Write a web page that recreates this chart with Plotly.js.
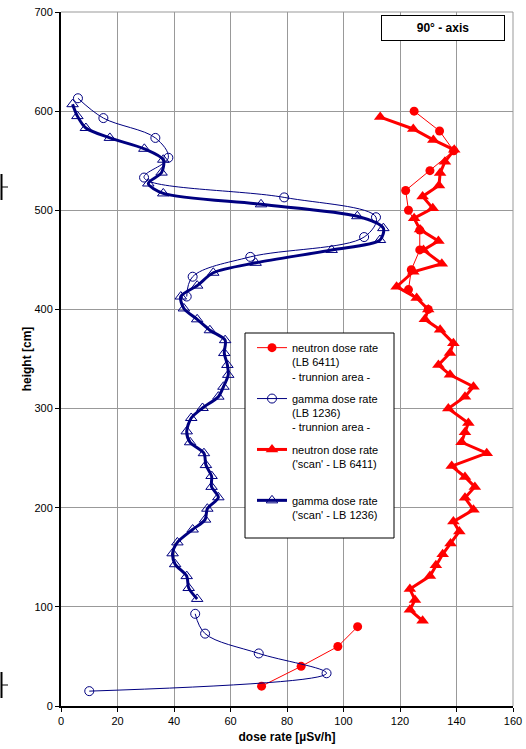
<!DOCTYPE html>
<html>
<head>
<meta charset="utf-8">
<script src="https://cdn.plot.ly/plotly-3.0.1.min.js"></script>
<style>
html,body{margin:0;padding:0;background:#fff;}
#chart{width:526px;height:749px;}
</style>
</head>
<body>
<div id="chart"></div>
<script>
// neutron dose rate (LB 6411) - trunnion area -  (null = gap between the two areas)
const nTrunHeight = [20, 40, 60, 80, null, 400, 420, 440, 460, 480, 500, 520, 540, 560, 580, 600];
const nTrunDose   = [71, 85, 98, 105, null, 130, 123, 124, 127, 127, 123, 122, 130.6, 139, 134, 125];

// gamma dose rate (LB 1236) - trunnion area -
const gTrunHeight = [15, 33, 53, 73, 93, null, 413, 433, 453, 473, 493, 513, 533, 553, 573, 593, 613];
const gTrunDose   = [10, 94, 70, 51, 47.5, null, 44.5, 46.6, 67, 107.3, 111.5, 79, 29.4, 38, 33.4, 15, 6];

// neutron dose rate ('scan' - LB 6411)
const nScanHeight = [86, 97, 107, 118, 131, 142, 153, 164, 176, 186, 198, 210, 221, 231, 242, 255, 266, 276, 285.5,
  300, 312, 322, 334, 344, 356, 366, 379.5, 390, 400, 411.5, 423, 438, 446, 460, 469, 480.5, 492, 502, 514, 525,
  537.5, 549, 561, 571, 582, 594];
const nScanDose   = [128, 123.5, 125.3, 123.5, 130.6, 132.7, 135.1, 137.9, 141, 138.9, 146, 143, 146.5, 143, 138.3, 150.7, 141.8, 143, 144.2,
  137.1, 143, 146, 137.7, 133.6, 137.7, 138.9, 134.2, 128.8, 130, 125.9, 118.8, 124.7, 134.8, 128.3, 133.6, 127.1, 125, 131.6, 128, 133.8,
  134.2, 135.9, 139.2, 131.8, 124.7, 113];

// gamma dose rate ('scan' - LB 1236)
const gScanHeight = [108, 119, 131, 143, 154, 165, 178, 188, 199, 210.5, 221, 232, 243, 255, 266, 277, 290.5, 300.6, 312, 322,
  334, 344, 356, 369, 379, 390, 401, 413, 424, 437, 447, 460, 470, 482, 494, 506, 517, 527, 538, 551, 562, 573, 583, 595, 607];
const gScanDose   = [48.2, 45.2, 44.5, 40.4, 39.5, 41.2, 46.6, 51, 51.8, 55.7, 53.3, 53.3, 51.3, 50.6, 45.7, 44.5, 46.1, 50.1, 55.7, 57.5,
  59.2, 58.9, 57.8, 58.1, 52.7, 48.2, 43.5, 42.4, 48.2, 53.9, 68.9, 95.8, 112.9, 114.1, 104.9, 70.8, 36.2, 30.9, 35.6, 36.2, 29.5, 17.3, 8.8, 5.8, 4.1];

const seriesNames = [
  'neutron dose rate<br>(LB 6411)<br>- trunnion area -',
  'gamma dose rate<br>(LB 1236)<br>- trunnion area -',
  "neutron dose rate<br>('scan' - LB 6411)<br>&nbsp;",
  "gamma dose rate<br>('scan' - LB 1236)<br>&nbsp;"
];

const xTicks = [0, 20, 40, 60, 80, 100, 120, 140, 160];
const yTicks = [0, 100, 200, 300, 400, 500, 600, 700];

const RED = '#FF0000', NAVY = '#000080';
const FONT = '"Liberation Sans", Arial, Helvetica, sans-serif';

const traces = [
  {
    x: nTrunDose, y: nTrunHeight, type: 'scatter', mode: 'lines+markers',
    name: seriesNames[0], legendgroup: 'a',
    line: {color: RED, width: 1}, connectgaps: false,
    marker: {symbol: 'circle', size: 9, color: RED}
  },
  {
    x: gTrunDose, y: gTrunHeight, type: 'scatter', mode: 'lines+markers',
    name: seriesNames[1], legendgroup: 'b',
    line: {color: NAVY, width: 1, shape: 'spline', smoothing: 1}, connectgaps: false,
    marker: {symbol: 'circle', size: 9, color: 'rgba(255,255,255,0)', line: {color: NAVY, width: 1}}
  },
  {
    x: nScanDose, y: nScanHeight, type: 'scatter', mode: 'lines+markers',
    name: seriesNames[2], legendgroup: 'c',
    line: {color: RED, width: 3},
    marker: {symbol: 'triangle-up', size: 11, color: RED}
  },
  {
    x: gScanDose, y: gScanHeight, type: 'scatter', mode: 'lines+markers',
    name: seriesNames[3], legendgroup: 'd',
    line: {color: NAVY, width: 3, shape: 'spline', smoothing: 0.8},
    marker: {symbol: 'triangle-up', size: 10, color: 'rgba(255,255,255,0)', line: {color: NAVY, width: 1}}
  }
];

function px2paperX(px){ return (px - 61) / 452; }
function px2paperY(py){ return (706 - py) / 694; }

const layout = {
  width: 526, height: 749,
  margin: {l: 61, r: 13, t: 12, b: 43},
  paper_bgcolor: '#fff', plot_bgcolor: '#fff',
  font: {family: FONT, size: 11, color: '#000'},
  showlegend: true,
  legend: {
    x: px2paperX(252), y: px2paperY(334), xanchor: 'left', yanchor: 'top',
    bgcolor: 'rgba(255,255,255,0)', borderwidth: 0,
    font: {family: FONT, size: 11, color: '#000'},
    valign: 'top', tracegroupgap: 5, itemwidth: 30
  },
  xaxis: {
    range: [0, 160], tickvals: xTicks, ticktext: xTicks.map(String),
    showgrid: true, gridcolor: '#999', gridwidth: 1, zeroline: false,
    showline: true, linecolor: '#000', linewidth: 2,
    ticks: 'outside', ticklen: 4, tickcolor: '#000',
    tickfont: {family: FONT, size: 11, color: '#000'},
    title: {text: '<b>dose rate [µSv/h]</b>', font: {family: FONT, size: 12, color: '#000'}, standoff: 6},
    fixedrange: true
  },
  yaxis: {
    range: [0, 700], tickvals: yTicks, ticktext: yTicks.map(String),
    showgrid: true, gridcolor: '#999', gridwidth: 1, zeroline: false,
    showline: true, linecolor: '#000', linewidth: 2,
    ticks: 'outside', ticklen: 4, tickcolor: '#000',
    tickfont: {family: FONT, size: 11, color: '#000'},
    title: {text: '<b>height [cm]</b>', font: {family: FONT, size: 12, color: '#000'}, standoff: 0},
    fixedrange: true
  },
  shapes: [
    {type: 'line', xref: 'paper', yref: 'paper', x0: 0, x1: 1, y0: 1, y1: 1, line: {color: '#999', width: 1}},
    {type: 'line', xref: 'paper', yref: 'paper', x0: 1, x1: 1, y0: 0, y1: 1, line: {color: '#999', width: 1}},
    // legend frame
    {type: 'rect', xref: 'paper', yref: 'paper', x0: px2paperX(245), x1: px2paperX(394), y0: px2paperY(538), y1: px2paperY(333),
      line: {color: '#000', width: 1}, fillcolor: '#fff', layer: 'above'},
    // small marks at the left edge of the picture
    {type: 'line', xref: 'paper', yref: 'paper', x0: px2paperX(1.5), x1: px2paperX(1.5), y0: px2paperY(174), y1: px2paperY(200), line: {color: '#000', width: 2}},
    {type: 'line', xref: 'paper', yref: 'paper', x0: px2paperX(1), x1: px2paperX(8), y0: px2paperY(187), y1: px2paperY(187), line: {color: '#000', width: 1}},
    {type: 'line', xref: 'paper', yref: 'paper', x0: px2paperX(1.5), x1: px2paperX(1.5), y0: px2paperY(672), y1: px2paperY(698), line: {color: '#000', width: 2}},
    {type: 'line', xref: 'paper', yref: 'paper', x0: px2paperX(1), x1: px2paperX(8), y0: px2paperY(685), y1: px2paperY(685), line: {color: '#000', width: 1}}
  ],
  annotations: [
    {
      text: '<b>90° - axis</b>', xref: 'paper', yref: 'paper',
      x: px2paperX(505), y: px2paperY(15), xanchor: 'right', yanchor: 'top',
      showarrow: false, width: 120, height: 22, borderpad: 1,
      bordercolor: '#000', borderwidth: 1, bgcolor: '#fff',
      font: {family: FONT, size: 12, color: '#000'}, align: 'center'
    }
  ]
};

Plotly.newPlot('chart', traces, layout, {displayModeBar: false, staticPlot: true});
</script>
</body>
</html>
